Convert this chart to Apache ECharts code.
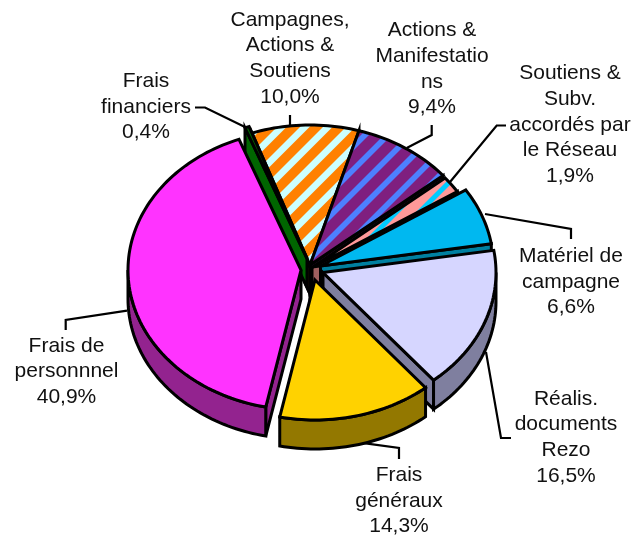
<!DOCTYPE html>
<html>
<head>
<meta charset="utf-8">
<style>html,body{margin:0;padding:0;background:#fff}#c{width:642px;height:535px}</style>
<script src="https://cdn.jsdelivr.net/npm/echarts@6/dist/echarts.min.js"></script>
</head>
<body>
<div id="c"></div>
<script>
// --- data, clockwise from the first slice ---
var categories = ['Frais\nfinanciers','Campagnes,\nActions &\nSoutiens','Actions &\nManifestatio\nns','Soutiens &\nSubv.\naccordés par\nle Réseau','Matériel de\ncampagne','Réalis.\ndocuments\nRezo','Frais\ngénéraux','Frais de\npersonnnel'];
var values = [0.4,10.0,9.4,1.9,6.6,16.5,14.3,40.9];

// --- style and layout ---
var topColors  = ['#006600','#FF8000','#7F1F7F','#FF9999','#00B8F0','#D6D6FF','#FFD200','#FF33FF'];
var stripeColors = [null,'#CCFFFF','#4D80FF','#00CCFF',null,null,null,null];
var stripeWidth = [0,9.5,8,7,0,0,0,0];
var stripePhase = [0,13,13,7,0,0,0,0];
var wallColors = ['#006600','#A05000','#40103F','#A06060','#0080A0','#7F7F9F','#937800','#93238F'];
var apexX = [307,310,310,312,320.5,323,315,301];
var apexY = [258.5,265,265,267.5,266,272.5,280,270];
var labelX = [146,290,432,570,571,566,399,66.5];
var labelY = [107,58.5,69,125,282,437.5,501,371.5];
var leaders = [
 [[195,107.5],[205,107.5],[247,128]],
 [[290,115],[290,126]],
 [[431.7,125],[431.7,135],[406.7,148]],
 [[506,125.5],[496.7,125.5],[450,182]],
 [[485,214],[571,229],[571,239]],
 [[486,352],[501,438],[511,438]],
 [[360,442.7],[399,448],[399,459]],
 [[127,310.7],[65.7,320],[65.7,330]]
];
var RX = 173, RY = 140, DEPTH = 29, START = -21, PERIOD = 23;

function stripes(bg, fg, w, phase){
  var c = document.createElement('canvas'); c.width = c.height = PERIOD;
  var g = c.getContext('2d'); g.fillStyle = bg; g.fillRect(0,0,PERIOD,PERIOD);
  g.strokeStyle = fg; g.lineWidth = w/Math.SQRT2;
  for (var k=-1;k<=2;k++){
    var s = phase + w/2 + k*PERIOD;
    g.beginPath(); g.moveTo(s+3*PERIOD,-3*PERIOD); g.lineTo(s-3*PERIOD,3*PERIOD); g.stroke();
  }
  return c;
}
var total = values.reduce(function(a,b){return a+b;},0);
var rad = function(d){return d*Math.PI/180;};
var slices = []; (function(){ var a = START;
  values.forEach(function(v,i){ var b = a + v/total*360; var m=(a+b)/2;
    slices.push({a0:a,a1:b,cx:apexX[i],cy:apexY[i],order:-Math.cos(rad(m))});
    a = b; });
})();
var rank = slices.map(function(s,i){return i;}).sort(function(p,q){return slices[p].order-slices[q].order;});

function pt(s,ang,dy){return [s.cx+RX*Math.sin(rad(ang)),s.cy-RY*Math.cos(rad(ang))+(dy||0)];}
function arc(s,a,b,dy){var n=Math.max(2,Math.ceil(Math.abs(b-a)/1.5)),o=[];for(var i=0;i<=n;i++)o.push(pt(s,a+(b-a)*i/n,dy));return o;}

function renderItem(params){
  var i = params.dataIndex, s = slices[i], z = rank.indexOf(i)*10, kids = [];
  var line = {stroke:'#000',lineWidth:3,lineJoin:'miter',miterLimit:6};
  function poly(points,fill,zz){kids.push({type:'polygon',z2:z+zz,shape:{points:points},style:Object.assign({fill:fill},line)});}
  var a0=s.a0,a1=s.a1,c=[s.cx,s.cy],cb=[s.cx,s.cy+DEPTH];
  var w=wallColors[i];
  var n0=(a0%360+360)%360, n1=(a1%360+360)%360;
  if(n0>180) poly([c,pt(s,a0),pt(s,a0,DEPTH),cb],w,1);
  if(n1<180) poly([c,pt(s,a1),pt(s,a1,DEPTH),cb],w,1);
  var l=Math.max(a0,90),h=Math.min(a1,270);
  if(h>l) poly(arc(s,l,h,0).concat(arc(s,h,l,DEPTH)),w,2);
  var fill = stripeColors[i] ? {image:stripes(topColors[i],stripeColors[i],stripeWidth[i],stripePhase[i]),repeat:'repeat'} : topColors[i];
  poly([c].concat(arc(s,a0,a1,0)),fill,3);
  return {type:'group',children:kids};
}

var graphics = [];
categories.forEach(function(name,i){
  graphics.push({type:'polyline',z:1,shape:{points:leaders[i]},style:{fill:null,stroke:'#000',lineWidth:2.2}});
  graphics.push({type:'text',z:3,x:labelX[i],y:labelY[i],style:{
    text:name+'\n'+values[i].toFixed(1).replace('.',',')+'%',
    font:'21px "Liberation Sans", Arial, sans-serif',lineHeight:25.7,fill:'#111',align:'center',verticalAlign:'middle'}});
});

var chart = echarts.init(document.getElementById('c'),null,{renderer:'canvas',width:642,height:535});
chart.setOption({
  animation:false,backgroundColor:'#fff',
  graphic:{elements:graphics},
  series:[{type:'custom',coordinateSystem:'none',z:2,silent:true,renderItem:renderItem,
    data:values.map(function(v,i){return {name:categories[i],value:v};})}]
});
</script>
</body>
</html>
